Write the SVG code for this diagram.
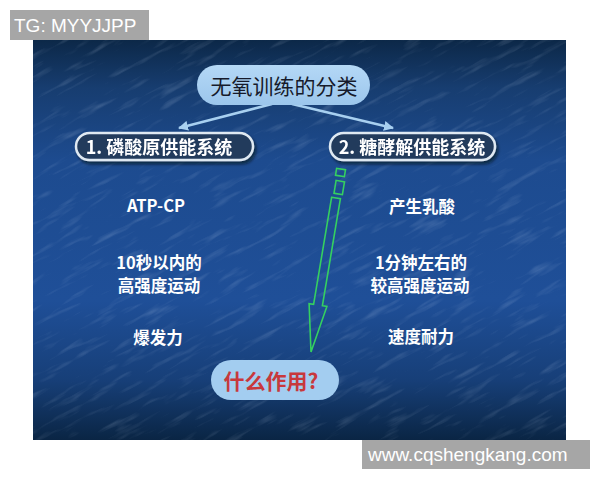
<svg xmlns="http://www.w3.org/2000/svg" width="600" height="480" viewBox="0 0 600 480">
  <defs>
    <linearGradient id="bg" x1="0" y1="0" x2="0" y2="1">
      <stop offset="0" stop-color="#0c2848"/>
      <stop offset="0.12" stop-color="#173d70"/>
      <stop offset="0.3" stop-color="#1d4b8f"/>
      <stop offset="0.65" stop-color="#1f4f98"/>
      <stop offset="0.85" stop-color="#173f78"/>
      <stop offset="1" stop-color="#0a2544"/>
    </linearGradient>
    <linearGradient id="pill" x1="0" y1="0" x2="0" y2="1">
      <stop offset="0" stop-color="#b4d8f6"/>
      <stop offset="1" stop-color="#9cc6ec"/>
    </linearGradient>
    <clipPath id="slideclip">
      <rect x="33" y="40" width="533" height="400"/>
    </clipPath>
    <filter id="tex" x="0" y="0" width="1" height="1">
      <feTurbulence type="fractalNoise" baseFrequency="0.025 0.16" numOctaves="3" seed="7" result="n"/>
      <feColorMatrix in="n" type="matrix" values="0 0 0 0 0.75  0 0 0 0 0.85  0 0 0 0 1  0 0 0 1.8 -1.0"/>
    </filter>
    <filter id="sh" x="-10%" y="-30%" width="120%" height="170%">
      <feDropShadow dx="2" dy="3" stdDeviation="1.5" flood-color="#000814" flood-opacity="0.6"/>
    </filter>
    <marker id="ah" viewBox="0 0 10 10" refX="9" refY="5" markerWidth="4" markerHeight="4" orient="auto" markerUnits="strokeWidth">
      <path d="M0,0 L10,5 L0,10 z" fill="#a8d0f0"/>
    </marker>
    <style>
      .wm { fill: #a6a6a6; }
      .wmt { font-family: "Liberation Sans", Arial, sans-serif; font-size: 19px; fill: #ffffff; }
      .cjk { font-family: "Noto Sans CJK SC", "Noto Sans", sans-serif; }
      .body { font-size: 16.5px; font-weight: 700; fill: #ffffff; text-anchor: middle; }
      .sys { fill: #223a5c; stroke: #dfe9f2; stroke-width: 2.5; }
      .syst { font-size: 18px; font-weight: 700; fill: #ffffff; text-anchor: middle; }
      .conn { stroke: #a8d0f0; stroke-width: 2.5; fill: none; }
      .green { fill: none; stroke: #35d060; stroke-width: 1.6; stroke-linejoin: miter; }
    </style>
  </defs>

  <rect x="0" y="0" width="600" height="480" fill="#ffffff"/>

  <g id="slide">
    <rect x="33" y="40" width="533" height="400" fill="url(#bg)"/>
    <g clip-path="url(#slideclip)">
      <rect x="-100" y="-100" width="800" height="700" filter="url(#tex)" opacity="0.25" transform="rotate(-28 300 240)"/>
    </g>
  </g>

  <g id="connectors">
    <line class="conn" x1="272" y1="104" x2="179" y2="128" marker-end="url(#ah)"/>
    <line class="conn" x1="292" y1="104" x2="393" y2="128" marker-end="url(#ah)"/>
    <g id="green-arrow">
      <rect class="green" x="336" y="169" width="9" height="7" transform="rotate(9.3 340.5 172.5)"/>
      <rect class="green" x="335" y="181" width="8.5" height="13" transform="rotate(9.3 339 187.5)"/>
      <polygon class="green" points="331.6,197.3 340.4,198.7 322.4,305.7 326.9,306.4 311,352 309.1,303.6 313.6,304.3"/>
    </g>
  </g>

  <g id="title">
    <rect x="197" y="65" width="173" height="40" rx="20" fill="url(#pill)"/>
    <text class="cjk" x="284" y="94" font-size="21" fill="#161a2a" text-anchor="middle">无氧训练的分类</text>
  </g>

  <g id="sys1" filter="url(#sh)">
    <rect class="sys" x="76" y="133" width="177" height="27" rx="13.5"/>
    <text class="cjk syst" x="159" y="154">1. 磷酸原供能系统</text>
  </g>

  <g id="sys2" filter="url(#sh)">
    <rect class="sys" x="330" y="133" width="165" height="27" rx="13.5"/>
    <text class="cjk syst" x="412" y="154">2. 糖酵解供能系统</text>
  </g>

  <g id="left-col">
    <text class="cjk body" x="156" y="212">ATP-CP</text>
    <text class="cjk body" x="159" y="269">10秒以内的</text>
    <text class="cjk body" x="159" y="292">高强度运动</text>
    <text class="cjk body" x="158" y="344">爆发力</text>
  </g>

  <g id="right-col">
    <text class="cjk body" x="422" y="213">产生乳酸</text>
    <text class="cjk body" x="421" y="269">1分钟左右的</text>
    <text class="cjk body" x="420" y="292">较高强度运动</text>
    <text class="cjk body" x="421" y="343">速度耐力</text>
  </g>

  <g id="question">
    <rect x="211" y="360" width="128" height="40" rx="20" fill="#a3cdf0"/>
    <text class="cjk" x="271" y="389" font-size="21" font-weight="700" fill="#c8383c" text-anchor="middle">什么作用?</text>
  </g>

  <g id="watermark-top">
    <rect class="wm" x="10" y="10" width="139" height="30"/>
    <text class="wmt" x="14" y="32">TG: MYYJJPP</text>
  </g>

  <g id="watermark-bottom">
    <rect class="wm" x="362" y="440" width="228" height="29"/>
    <text class="wmt" x="368" y="461">www.cqshengkang.com</text>
  </g>
</svg>
